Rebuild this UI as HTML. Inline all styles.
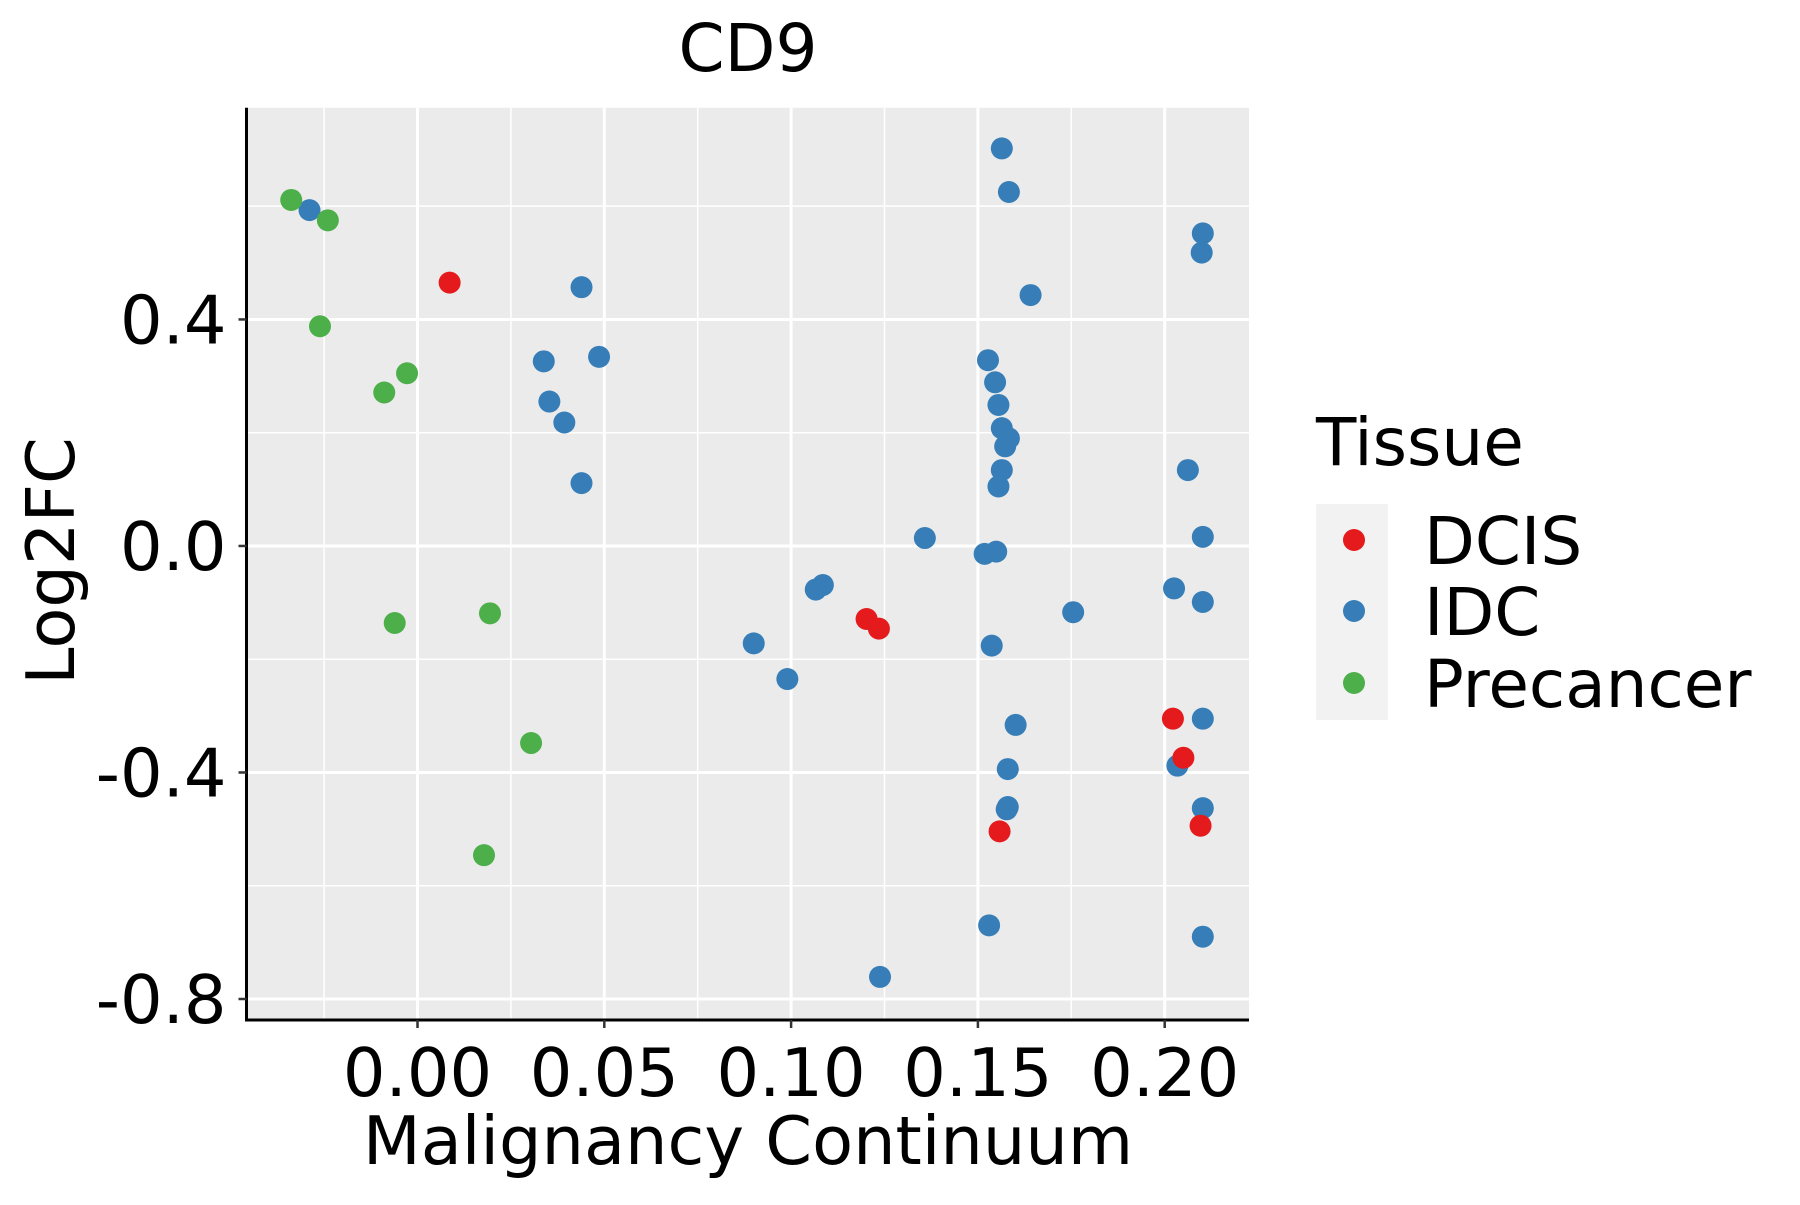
<!DOCTYPE html>
<html><head><meta charset="utf-8"><style>
html,body{margin:0;padding:0;background:#fff;}
svg text{font-family:"DejaVu Sans","Liberation Sans",sans-serif;fill:#000;}
</style></head><body>
<svg id="chart" width="1800" height="1200" viewBox="0 0 1800 1200" xmlns="http://www.w3.org/2000/svg">
<rect width="1800" height="1200" fill="#fff"/>
<rect x="246.5" y="107.8" width="1002.5" height="912.2" fill="#ebebeb"/>
<g id="grid"></g>
<g id="points"></g>
<line x1="246.5" y1="107.8" x2="246.5" y2="1020" stroke="#000" stroke-width="3"/>
<line x1="245" y1="1020" x2="1249" y2="1020" stroke="#000" stroke-width="3"/>
<g id="ticks"></g>
<text x="748" y="71" font-size="66" text-anchor="middle">CD9</text>
<text x="748" y="1164" font-size="67" text-anchor="middle">Malignancy Continuum</text>
<text transform="translate(74,561) rotate(-90)" font-size="67" text-anchor="middle">Log2FC</text>
<g>
<text x="1316" y="465" font-size="66">Tissue</text>
<rect x="1316" y="504" width="72" height="216" fill="#f2f2f2"/>
<circle cx="1354" cy="540" r="11" fill="#E41A1C"/>
<circle cx="1354" cy="611" r="11" fill="#377EB8"/>
<circle cx="1354" cy="683" r="11" fill="#4DAF4A"/>
<text x="1424" y="564" font-size="66">DCIS</text>
<text x="1424" y="635" font-size="66">IDC</text>
<text x="1424" y="707" font-size="66">Precancer</text>
</g>
</svg>
<script>
const xTicks = [0, 0.05, 0.10, 0.15, 0.20];
const xTickLabels = ["0.00", "0.05", "0.10", "0.15", "0.20"];
const xMinor = [-0.025, 0.025, 0.075, 0.125, 0.175];
const yTicks = [0.4, 0.0, -0.4, -0.8];
const yTickLabels = ["0.4", "0.0", "-0.4", "-0.8"];
const yMinor = [0.6, 0.2, -0.2, -0.6];
const precancerX = [-0.0338,-0.0240,-0.0261,-0.0028,-0.0089,-0.0061,0.0194,0.0304,0.0178];
const precancerY = [0.611,0.575,0.388,0.305,0.271,-0.136,-0.119,-0.348,-0.546];
const dcisX = [0.0086,0.1202,0.1235,0.2022,0.2050,0.1558,0.2096];
const dcisY = [0.465,-0.129,-0.146,-0.305,-0.374,-0.504,-0.494];
const idcX = [-0.0289,0.0439,0.0338,0.0486,0.0353,0.0393,0.0439,0.1564,0.1583,0.2102,0.2099,0.1641,0.1527,0.1546,0.1555,0.1564,0.1583,0.1573,0.1564,0.1555,0.2062,0.2102,0.1358,0.1518,0.1549,0.1085,0.1066,0.1755,0.2025,0.2102,0.0900,0.1537,0.0990,0.1601,0.2102,0.1580,0.2034,0.1580,0.1577,0.2102,0.1530,0.2102,0.1238];
const idcY = [0.593,0.457,0.326,0.334,0.255,0.218,0.111,0.702,0.625,0.552,0.518,0.443,0.328,0.289,0.249,0.208,0.190,0.176,0.134,0.105,0.134,0.016,0.014,-0.014,-0.010,-0.069,-0.077,-0.117,-0.075,-0.099,-0.172,-0.176,-0.235,-0.316,-0.305,-0.394,-0.388,-0.461,-0.465,-0.463,-0.670,-0.690,-0.761];

const NS = "http://www.w3.org/2000/svg";
const X0 = 246.5, X1 = 1249, Y0 = 107.8, Y1 = 1020;
function xs(v){ return 417.5 + v * 3736; }
function ys(v){ return 545.96 - v * 566.3; }
function mk(tag, attrs, parent){
  const el = document.createElementNS(NS, tag);
  for (const k in attrs) el.setAttribute(k, attrs[k]);
  parent.appendChild(el);
  return el;
}
const grid = document.getElementById('grid');
const ticks = document.getElementById('ticks');
const pts = document.getElementById('points');
xMinor.forEach(v => {
  const l = mk('line', {x1: xs(v), x2: xs(v), y1: Y0, y2: Y1, stroke: '#fff', 'stroke-width': 1.5}, grid);
  
  
});
yMinor.forEach(v => {
  const l = mk('line', {x1: X0, x2: X1, y1: ys(v), y2: ys(v), stroke: '#fff', 'stroke-width': 1.5}, grid);
  
  
});
xTicks.forEach((v, i) => {
  const l = mk('line', {x1: xs(v), x2: xs(v), y1: Y0, y2: Y1, stroke: '#fff', 'stroke-width': 3}, grid);
  
  
  const t = mk('line', {x1: xs(v), x2: xs(v), y1: Y1, y2: Y1 + 8, stroke: '#333', 'stroke-width': 2.5}, ticks);
  
  
  const tx = mk('text', {x: xs(v), y: Y1 + 76, 'font-size': 67, 'text-anchor': 'middle'}, ticks);
  tx.textContent = xTickLabels[i];
  
  
});
yTicks.forEach((v, i) => {
  const l = mk('line', {x1: X0, x2: X1, y1: ys(v), y2: ys(v), stroke: '#fff', 'stroke-width': 3}, grid);
  
  
  const t = mk('line', {x1: X0 - 8, x2: X0, y1: ys(v), y2: ys(v), stroke: '#333', 'stroke-width': 2.5}, ticks);
  
  
  const tx = mk('text', {x: X0 - 20, y: ys(v) + 24, 'font-size': 67, 'text-anchor': 'end'}, ticks);
  tx.textContent = yTickLabels[i];
  
  
});
function drawSeries(xsArr, ysArr, color, name){
  xsArr.forEach((v, i) => {
    const c = mk('circle', {cx: xs(v), cy: ys(ysArr[i]), r: 11, fill: color}, pts);
    
    
  });
}
drawSeries(idcX, idcY, '#377EB8', 'idc-point');
drawSeries(precancerX, precancerY, '#4DAF4A', 'precancer-point');
drawSeries(dcisX, dcisY, '#E41A1C', 'dcis-point');
</script>
</body></html>
